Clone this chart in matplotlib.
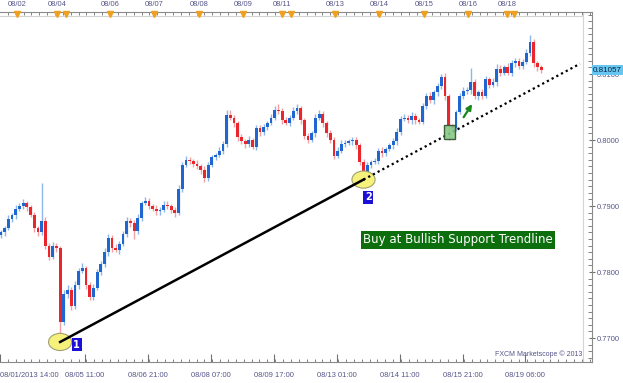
import numpy as np
import matplotlib.pyplot as plt
import matplotlib.transforms as mtransforms
from matplotlib.patches import Ellipse, Rectangle
from matplotlib.ticker import MultipleLocator, FixedLocator

plt.rcParams['font.family'] = ['Liberation Sans', 'DejaVu Sans']

# EUR/USD style candles, 2-hour bars, prices given in pips above 0.7700
base = 0.7700
first_open_pips = 156
closes_pips = [160, 166, 180, 186, 196, 200, 205, 198, 186, 166,
               160, 178, 140, 122, 140, 136, 24, 66, 72, 48,
               80, 102, 106, 80, 62, 76, 100, 112, 130, 152,
               136, 134, 142, 158, 178, 174, 162, 182, 204, 208,
               200, 196, 192, 194, 202, 200, 194, 190, 226, 262,
               270, 268, 264, 260, 255, 242, 262, 274, 278, 284,
               294, 338, 334, 326, 304, 298, 294, 300, 290, 318,
               312, 320, 326, 334, 346, 344, 330, 326, 334, 344,
               348, 330, 306, 300, 310, 334, 340, 326, 310, 300,
               276, 284, 294, 296, 298, 300, 292, 266, 250, 262,
               266, 268, 284, 280, 286, 292, 298, 312, 332, 334,
               330, 336, 330, 328, 352, 366, 360, 372, 382, 396,
               366, 322, 318, 342, 366, 374, 376, 388, 366, 372,
               366, 392, 384, 388, 408, 402, 410, 402, 416, 420,
               412, 418, 432, 448, 416, 410, 406]
wick_hi = [4, 3, 6, 3, 5, 4, 6, 3, 4, 5,
           3, 57, 6, 4, 5, 4, 3, 6, 8, 5,
           6, 4, 8, 3, 5, 6, 4, 5, 7, 5,
           4, 6, 5, 4, 6, 4, 5, 6, 4, 5,
           4, 3, 5, 4, 6, 5, 3, 4, 6, 5,
           6, 4, 3, 5, 4, 6, 5, 4, 3, 5,
           4, 7, 8, 4, 3, 5, 4, 6, 3, 5,
           4, 5, 3, 6, 5, 8, 4, 5, 4, 6,
           7, 4, 3, 5, 4, 6, 5, 4, 3, 5,
           4, 5, 6, 4, 3, 5, 4, 3, 5, 4,
           3, 5, 4, 6, 3, 4, 5, 6, 4, 5,
           4, 6, 5, 3, 4, 5, 6, 4, 5, 4,
           5, 4, 3, 4, 5, 6, 4, 21, 5, 4,
           6, 5, 4, 6, 7, 5, 4, 6, 5, 4,
           5, 4, 6, 11, 5, 4, 3]
wick_lo = [4, 5, 3, 4, 5, 3, 4, 6, 3, 5,
           6, 4, 5, 4, 3, 5, 30, 4, 6, 5,
           4, 5, 3, 6, 5, 4, 3, 5, 4, 6,
           5, 4, 6, 3, 5, 6, 12, 4, 5, 3,
           5, 4, 6, 5, 3, 4, 5, 6, 4, 5,
           3, 4, 5, 4, 6, 5, 4, 3, 5, 4,
           5, 4, 3, 6, 5, 4, 6, 5, 4, 5,
           6, 4, 5, 3, 4, 5, 6, 4, 5, 3,
           4, 6, 5, 4, 3, 5, 4, 6, 5, 4,
           5, 4, 3, 5, 4, 6, 5, 4, 10, 4,
           5, 3, 4, 5, 4, 3, 6, 5, 4, 3,
           4, 5, 6, 4, 3, 5, 4, 6, 5, 4,
           5, 22, 4, 5, 3, 4, 5, 6, 4, 5,
           4, 3, 5, 4, 6, 5, 4, 3, 5, 6,
           4, 5, 3, 4, 5, 6, 4]
last_price = 0.81057

bottom_tick_hours = [0, 46, 80, 114, 148, 182, 216, 250, 284]
bottom_tick_labels = ['08/01/2013 14:00', '08/05 11:00', '08/06 21:00', '08/08 07:00',
                      '08/09 17:00', '08/13 01:00', '08/14 11:00', '08/15 21:00', '08/19 06:00']
top_label_hours = [9.2, 30.8, 59.5, 83.2, 107.6, 131.4, 152.4, 181.1, 204.9, 229.2, 253, 274]
top_labels = ['08/02', '08/04', '08/06', '08/07', '08/08', '08/09', '08/11',
              '08/13', '08/14', '08/15', '08/16', '08/18']
extra_marker_hours = [35.7, 157.3, 278]

touch1, touch2 = 16, 98      # bars touching the trendline
signal_bar = 121             # bar in the green box

# build OHLC
closes = base + np.array(closes_pips) / 10000
opens = np.concatenate([[base + first_open_pips / 10000], closes[:-1]])
highs = np.maximum(opens, closes) + np.array(wick_hi) / 10000
lows = np.minimum(opens, closes) - np.array(wick_lo) / 10000
hours = np.arange(len(closes)) * 2 + 0.5

label_col = '#55558a'
fs = 5.4
up_body, up_wick = '#1f66d1', '#8db6ea'
dn_body, dn_wick = '#e8262b', '#f2a0a3'

fig = plt.figure(figsize=(6.23, 3.83), dpi=100)
ax = fig.add_axes([0, 21 / 383, 592 / 623, 350 / 383])

up = closes >= opens
wick_cols = np.where(up, up_wick, dn_wick)
body_cols = np.where(up, up_body, dn_body)
ax.vlines(hours, lows, highs, colors=wick_cols, linewidth=1.0, zorder=2)
body_h = np.abs(closes - opens)
body_h = np.maximum(body_h, 0.00008)
ax.bar(hours, body_h, bottom=np.minimum(opens, closes), width=1.5,
       color=body_cols, linewidth=0, zorder=3)

# trendline: solid between touches, dotted extension
x1, y1 = hours[touch1], lows[touch1]
x2, y2 = hours[touch2], lows[touch2]
slope = (y2 - y1) / (x2 - x1)
x_end = 313.5
ax.plot([x1, x2], [y1, y2], color='black', linewidth=1.8, zorder=5)
ax.plot([x2, x_end], [y2, y2 + slope * (x_end - x2)], color='black',
        linewidth=1.6, linestyle=(0, (1, 1.4)), zorder=5)

# yellow circles and number tags
for (xe, ye), tag, dx, dy in [((x1, y1), '1', 9.0, -0.0004), ((x2, y2), '2', 2.5, -0.0027)]:
    ax.add_patch(Ellipse((xe, ye), 12.5, 0.0026, facecolor='#f6f07c',
                         edgecolor='#a0a070', linewidth=0.8, zorder=4))
    ax.text(xe + dx, ye + dy, tag, color='white', fontsize=7, fontweight='bold',
            family='DejaVu Sans', ha='center', va='center', zorder=7,
            bbox=dict(boxstyle='square,pad=0.15', facecolor='#1a10d8', edgecolor='none'))

# green box on the signal candle and arrow
xs = hours[signal_bar]
ax.add_patch(Rectangle((xs - 2.3, lows[signal_bar] + 0.0002), 5.8, 0.0020,
                       facecolor='#86c986', edgecolor='#2f4f2f', linewidth=1.0,
                       alpha=0.9, zorder=6))
ax.annotate('', xy=(xs + 13.5, 0.8058), xytext=(xs + 7.3, 0.8031),
            arrowprops=dict(arrowstyle='-|>', color='#16881c', lw=1.6,
                            mutation_scale=8), zorder=6)

ax.text(247.5, 0.78485, 'Buy at Bullish Support Trendline', color='white',
        fontsize=8.5, family='DejaVu Sans', ha='center', va='center', zorder=7,
        bbox=dict(boxstyle='square,pad=0.2', facecolor='#0c6e0c', edgecolor='none'))

ax.text(582 / 592, 0.012, 'FXCM Marketscope \u00a9 2013', transform=ax.transAxes,
        ha='right', va='bottom', fontsize=5.0, color=label_col)

# axes limits and spines
ax.set_xlim(0, 320)
ax.set_ylim(0.766364, 0.819394)
ax.spines['left'].set_visible(False)
for side in ['top', 'bottom', 'right']:
    ax.spines[side].set_color('#8a8a8a')
    ax.spines[side].set_linewidth(0.8)
ax.axvline(320 * 583 / 592, color='#d4d4d4', linewidth=0.8, zorder=1)
ax.axhline(0.819394 - 4 / 6600, xmax=583 / 592, color='#d4d4d4', linewidth=0.8, zorder=1)

# bottom time axis
ax.xaxis.set_major_locator(FixedLocator(bottom_tick_hours))
ax.set_xticklabels(bottom_tick_labels)
ax.get_xticklabels()[0].set_ha('left')
ax.xaxis.set_minor_locator(MultipleLocator(34 / 8))
ax.tick_params(axis='x', which='major', direction='in', length=6, width=0.8,
               color='#707070', labelsize=fs, labelcolor=label_col, pad=7)
ax.tick_params(axis='x', which='minor', direction='in', length=2.5, width=0.6,
               color='#707070', top=True, bottom=True)

# right price axis
ax.yaxis.tick_right()
ax.yaxis.set_major_locator(MultipleLocator(0.01))
ax.yaxis.set_minor_locator(MultipleLocator(0.001))
ax.yaxis.set_major_formatter(plt.FormatStrFormatter('%.4f'))
ax.tick_params(axis='y', which='major', direction='inout', length=5, width=0.8,
               color='#707070', labelsize=fs, labelcolor=label_col, pad=0.8)
ax.tick_params(axis='y', which='minor', direction='in', length=3, width=0.6,
               color='#707070')

ax.text(1.002, last_price, f'{last_price:.5f}',
        transform=mtransforms.blended_transform_factory(ax.transAxes, ax.transData),
        ha='left', va='center', fontsize=fs + 0.4, color='#10203a', zorder=8, clip_on=False,
        bbox=dict(boxstyle='square,pad=0.18', facecolor='#66c8f2', edgecolor='none'))

# top date axis with orange day markers
top = ax.secondary_xaxis('top')
top.set_xticks(top_label_hours)
top.set_xticklabels(top_labels)
top.tick_params(length=0, labelsize=fs, labelcolor=label_col, pad=3)
top.spines['top'].set_visible(False)
tri_trans = mtransforms.blended_transform_factory(ax.transData, ax.transAxes)
ax.plot(top_label_hours + extra_marker_hours,
        [0.993] * (len(top_label_hours) + len(extra_marker_hours)),
        linestyle='none', marker='v', markersize=4.5, color='#f0a020',
        transform=tri_trans, clip_on=False, zorder=8)

fig.savefig('out.png', dpi=100)
